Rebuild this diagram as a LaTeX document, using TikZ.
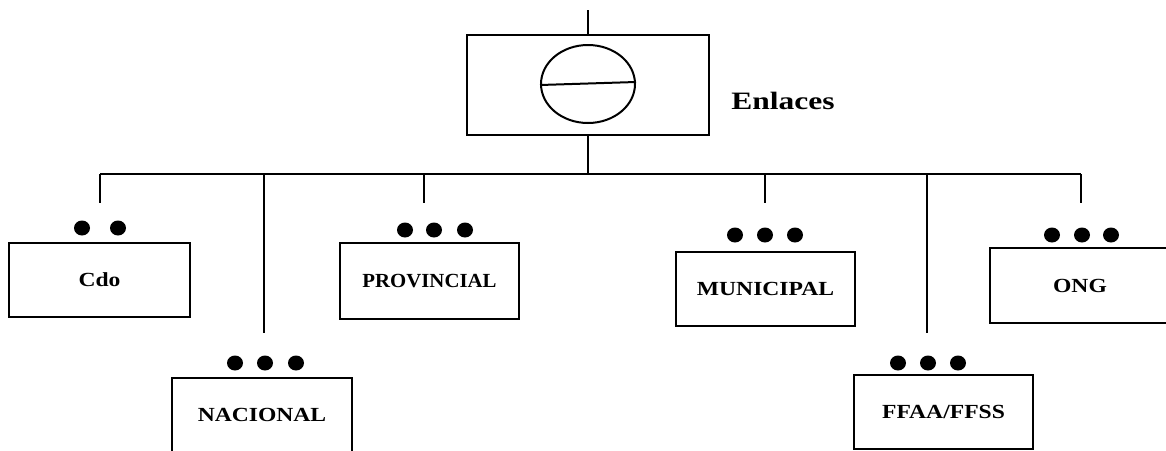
\documentclass[tikz,border=0pt]{standalone}
\usepackage{fontspec}
\setmainfont{Liberation Serif}
\usetikzlibrary{shapes.geometric}
\begin{document}
\begin{tikzpicture}[x=1pt,y=-1pt,
  line width=2pt,
  orgbox/.style={draw, rectangle, line width=2pt, minimum width=180pt, minimum height=74pt, inner sep=0pt,
    font=\fontsize{20}{24}\selectfont\bfseries},
  dotmark/.style={draw=none, fill=black, ellipse, minimum width=16pt, minimum height=15pt, inner sep=0pt},
  link/.style={line width=2pt, line cap=butt}]
\clip (0,0) rectangle (1166,450);
\fill[white] (0,0) rectangle (1166,450);

% top hub
\node[draw, rectangle, minimum width=242pt, minimum height=100pt, inner sep=0pt] (hub) at (588,85) {};
\node[draw, ellipse, minimum width=94pt, minimum height=78pt, inner sep=0pt] (sym) at (588,84) {};
\draw[link] ([yshift=-1pt]sym.west) -- ([yshift=2pt]sym.east);
\node[font=\fontsize{25}{30}\selectfont\bfseries, inner sep=0pt] (enl) at (783,101) {\scalebox{1.26}[1]{Enlaces}};

\coordinate (topend) at (588,10);
\coordinate (junc) at (588,174);
\draw[link] (topend) -- (hub.north);
\draw[link] (hub.south) -- (junc);

% bar
\coordinate (barL) at (100,174);
\coordinate (barR) at (1081,174);
\draw[link] (barL) -- (barR);

% boxes
\node[orgbox, minimum width=181pt] (cdo) at (99.5,280) {\scalebox{1.18}[1]{Cdo}};
\node[orgbox] (nac) at (262,415) {\scalebox{1.18}[1]{NACIONAL}};
\node[orgbox, minimum width=179pt, minimum height=76pt] (prov) at (429.5,281) {\scalebox{1.04}[1]{PROVINCIAL}};
\node[orgbox, minimum width=179pt] (mun) at (765.5,289) {\scalebox{1.18}[1]{MUNICIPAL}};
\node[orgbox, minimum width=179pt] (ffaa) at (943.5,412) {\scalebox{1.18}[1]{FFAA/FFSS}};
\node[orgbox, minimum height=75pt] (ong) at (1080,285.5) {\scalebox{1.18}[1]{ONG}};

% drops
\coordinate (dcdo) at (100,203);
\coordinate (dnac) at (264,333);
\coordinate (dprov) at (424,203);
\coordinate (dmun) at (765,203);
\coordinate (dffaa) at (927,333);
\coordinate (dong) at (1081,203);
\draw[link] (barL) -- (dcdo);
\draw[link] (264,174) -- (dnac);
\draw[link] (424,174) -- (dprov);
\draw[link] (765,174) -- (dmun);
\draw[link] (927,174) -- (dffaa);
\draw[link] (barR) -- (dong);

% dots
\node[dotmark] (c1) at (82,228) {};
\node[dotmark] (c2) at (118,228) {};
\node[dotmark] (n1) at (235,363) {};
\node[dotmark] (n2) at (265,363) {};
\node[dotmark] (n3) at (296,363) {};
\node[dotmark] (p1) at (405,230) {};
\node[dotmark] (p2) at (434,230) {};
\node[dotmark] (p3) at (465,230) {};
\node[dotmark] (m1) at (735,235) {};
\node[dotmark] (m2) at (765,235) {};
\node[dotmark] (m3) at (795,235) {};
\node[dotmark] (f1) at (898,363) {};
\node[dotmark] (f2) at (928,363) {};
\node[dotmark] (f3) at (958,363) {};
\node[dotmark] (o1) at (1052,235) {};
\node[dotmark] (o2) at (1082,235) {};
\node[dotmark] (o3) at (1111,235) {};
\end{tikzpicture}
\end{document}
